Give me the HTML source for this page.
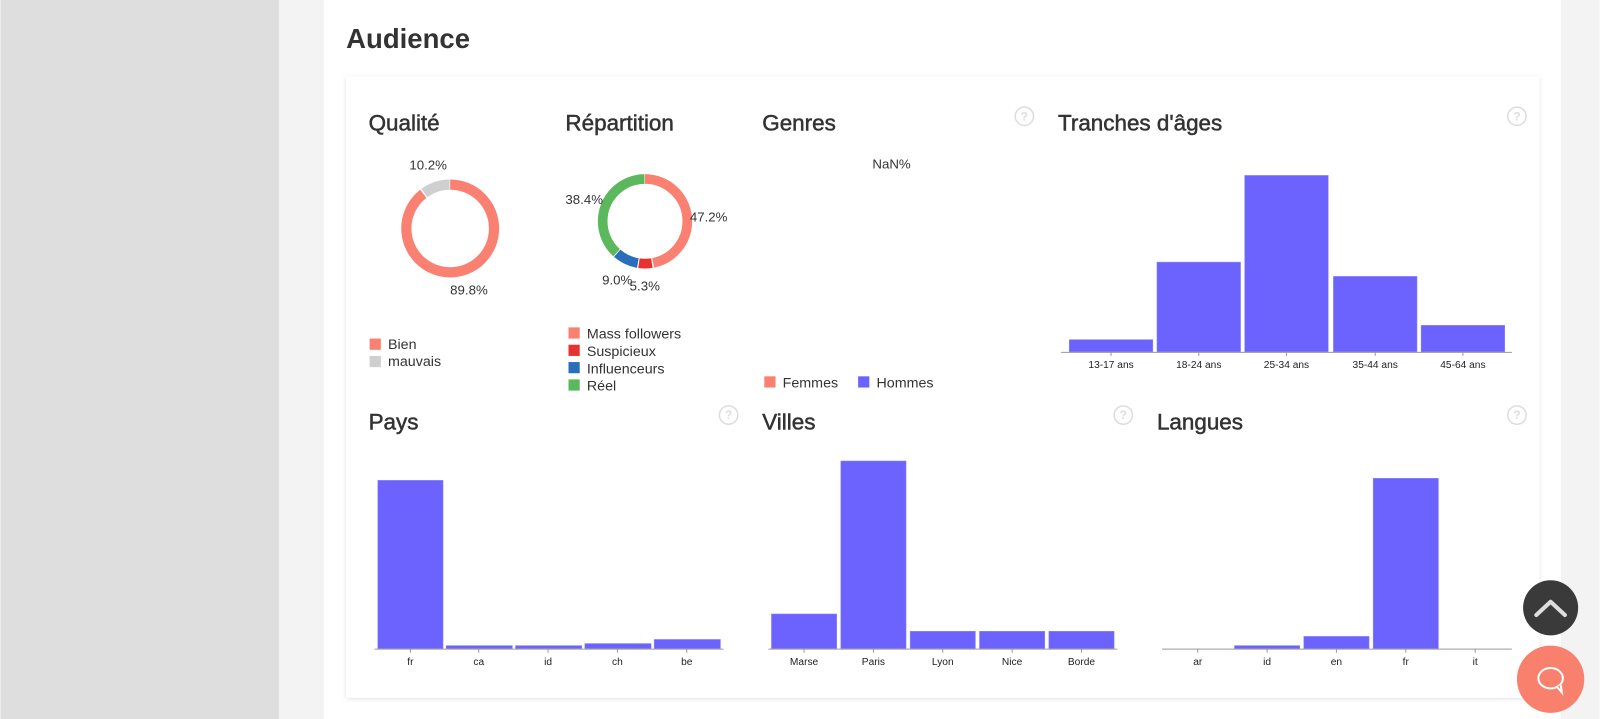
<!DOCTYPE html>
<html><head><meta charset="utf-8"><style>
html,body{margin:0;padding:0;background:#fff;overflow:hidden}
svg{display:block}
text{font-family:"Liberation Sans","DejaVu Sans",sans-serif}
</style></head><body>
<svg width="1600" height="719" viewBox="0 0 1568 705" xmlns="http://www.w3.org/2000/svg">
<defs><filter id="sh" x="-5%" y="-5%" width="110%" height="110%"><feDropShadow dx="0" dy="1" stdDeviation="2" flood-color="#000" flood-opacity="0.12"/></filter></defs>
<rect x="0" y="0" width="1568" height="705" fill="#f3f3f3"/>
<rect x="0" y="0" width="273" height="705" fill="#dedede"/>
<rect x="317" y="0" width="1213" height="705" fill="#fff"/>
<text x="339" y="47" font-size="27" font-weight="bold" fill="#333">Audience</text>
<rect x="339" y="75" width="1170" height="609" fill="#fff" filter="url(#sh)"/>
<g font-size="22" fill="#333" stroke="#333" stroke-width="0.5">
<text x="361" y="128">Qualité</text>
<text x="554" y="128">Répartition</text>
<text x="747" y="128">Genres</text>
<text x="1037" y="128">Tranches d'âges</text>
<text x="361" y="421">Pays</text>
<text x="747" y="421">Villes</text>
<text x="1134" y="421">Langues</text>
</g>
<g fill="none" stroke="#ddd" stroke-width="1.5">
<circle cx="1004" cy="114" r="9"/><circle cx="1487" cy="114" r="9"/><circle cx="714" cy="407" r="9"/><circle cx="1101" cy="407" r="9"/><circle cx="1487" cy="407" r="9"/>
</g>
<g font-size="12" fill="#ddd" text-anchor="middle" font-weight="bold">
<text x="1004" y="118">?</text><text x="1487" y="118">?</text><text x="714" y="411">?</text><text x="1101" y="411">?</text><text x="1487" y="411">?</text>
</g>
<g transform="rotate(-90 441 224)" fill="none" stroke-width="10">
<circle cx="441" cy="224" r="43" pathLength="100" stroke="#fa8072" stroke-dasharray="89.5 10.5"/>
<circle cx="441" cy="224" r="43" pathLength="100" stroke="#cfcfcf" stroke-dasharray="0 90 9.8 0.2"/>
</g>
<g transform="rotate(-90 632 217)" fill="none" stroke-width="9.5">
<circle cx="632" cy="217" r="41.5" pathLength="100" stroke="#fa8072" stroke-dasharray="46.9 53.1"/>
<circle cx="632" cy="217" r="41.5" pathLength="100" stroke="#e8322f" stroke-dasharray="0 47.4 4.9 47.7"/>
<circle cx="632" cy="217" r="41.5" pathLength="100" stroke="#2a6ebb" stroke-dasharray="0 52.7 8.7 38.6"/>
<circle cx="632" cy="217" r="41.5" pathLength="100" stroke="#5cb85c" stroke-dasharray="0 61.7 38.1 0.2"/>
</g>
<g font-size="13" fill="#333">
<text x="401" y="166">10.2%</text>
<text x="441" y="289">89.8%</text>
<text x="554" y="200">38.4%</text>
<text x="676" y="217">47.2%</text>
<text x="590" y="279">9.0%</text>
<text x="617" y="285">5.3%</text>
<text x="855" y="165">NaN%</text>
</g>
<g font-size="14" fill="#333">
<rect x="362" y="332" width="11" height="11" fill="#fa8072"/><text x="380" y="342">Bien</text>
<rect x="362" y="349" width="11" height="11" fill="#cfcfcf"/><text x="380" y="359">mauvais</text>
<rect x="557" y="321" width="11" height="11" fill="#fa8072"/><text x="575" y="332">Mass followers</text>
<rect x="557" y="338" width="11" height="11" fill="#e8322f"/><text x="575" y="349">Suspicieux</text>
<rect x="557" y="355" width="11" height="11" fill="#2a6ebb"/><text x="575" y="366">Influenceurs</text>
<rect x="557" y="372" width="11" height="11" fill="#5cb85c"/><text x="575" y="383">Réel</text>
<rect x="749" y="369" width="11" height="11" fill="#fa8072"/><text x="767" y="380">Femmes</text>
<rect x="841" y="369" width="11" height="11" fill="#6c63ff"/><text x="859" y="380">Hommes</text>
</g>
<g fill="#6c63ff" stroke="#8f89ff" stroke-width="0.5">
<rect x="1048" y="333" width="82" height="12"/>
<rect x="1134" y="257" width="82" height="88"/>
<rect x="1220" y="172" width="82" height="173"/>
<rect x="1307" y="271" width="82" height="74"/>
<rect x="1393" y="319" width="82" height="26"/>
<rect x="370" y="471" width="64" height="165"/>
<rect x="437" y="633" width="65" height="3"/>
<rect x="505" y="633" width="65" height="3"/>
<rect x="573" y="631" width="65" height="5"/>
<rect x="641" y="627" width="65" height="9"/>
<rect x="756" y="602" width="64" height="34"/>
<rect x="824" y="452" width="64" height="184"/>
<rect x="892" y="619" width="64" height="17"/>
<rect x="960" y="619" width="64" height="17"/>
<rect x="1028" y="619" width="64" height="17"/>
<rect x="1210" y="633" width="64" height="3"/>
<rect x="1278" y="624" width="64" height="12"/>
<rect x="1346" y="469" width="64" height="167"/>
</g>
<g stroke="#999" stroke-width="1">
<line x1="1040" y1="345.5" x2="1482" y2="345.5"/>
<line x1="367" y1="636.5" x2="709" y2="636.5"/>
<line x1="753" y1="636.5" x2="1095" y2="636.5"/>
<line x1="1139" y1="636.5" x2="1482" y2="636.5"/>
<path d="M1089 345v4M1175 345v4M1261 345v4M1348 345v4M1434 345v4 M402 636v4M469 636v4M537 636v4M605 636v4M673 636v4 M788 636v4M856 636v4M924 636v4M992 636v4M1060 636v4 M1174 636v4M1242 636v4M1310 636v4M1378 636v4M1446 636v4"/>
</g>
<g font-size="10" fill="#222" text-anchor="middle">
<text x="1089" y="361">13-17 ans</text><text x="1175" y="361">18-24 ans</text><text x="1261" y="361">25-34 ans</text><text x="1348" y="361">35-44 ans</text><text x="1434" y="361">45-64 ans</text>
<text x="402" y="652">fr</text><text x="469" y="652">ca</text><text x="537" y="652">id</text><text x="605" y="652">ch</text><text x="673" y="652">be</text>
<text x="788" y="652">Marse</text><text x="856" y="652">Paris</text><text x="924" y="652">Lyon</text><text x="992" y="652">Nice</text><text x="1060" y="652">Borde</text>
<text x="1174" y="652">ar</text><text x="1242" y="652">id</text><text x="1310" y="652">en</text><text x="1378" y="652">fr</text><text x="1446" y="652">it</text>
</g>
<circle cx="1520" cy="596" r="27" fill="#3a3a3a"/>
<path d="M1506 603 L1520 590 L1534 603" fill="none" stroke="#ddd" stroke-width="4" stroke-linecap="round" stroke-linejoin="round"/>
<circle cx="1520" cy="666" r="33" fill="#f8806c"/>
<ellipse cx="1520" cy="665" rx="12" ry="10" fill="none" stroke="#fff" stroke-width="2"/>
<path d="M1526 673 l5 6 l-1 -7" fill="#f8806c" stroke="#fff" stroke-width="2"/>
</svg>
</body></html>
